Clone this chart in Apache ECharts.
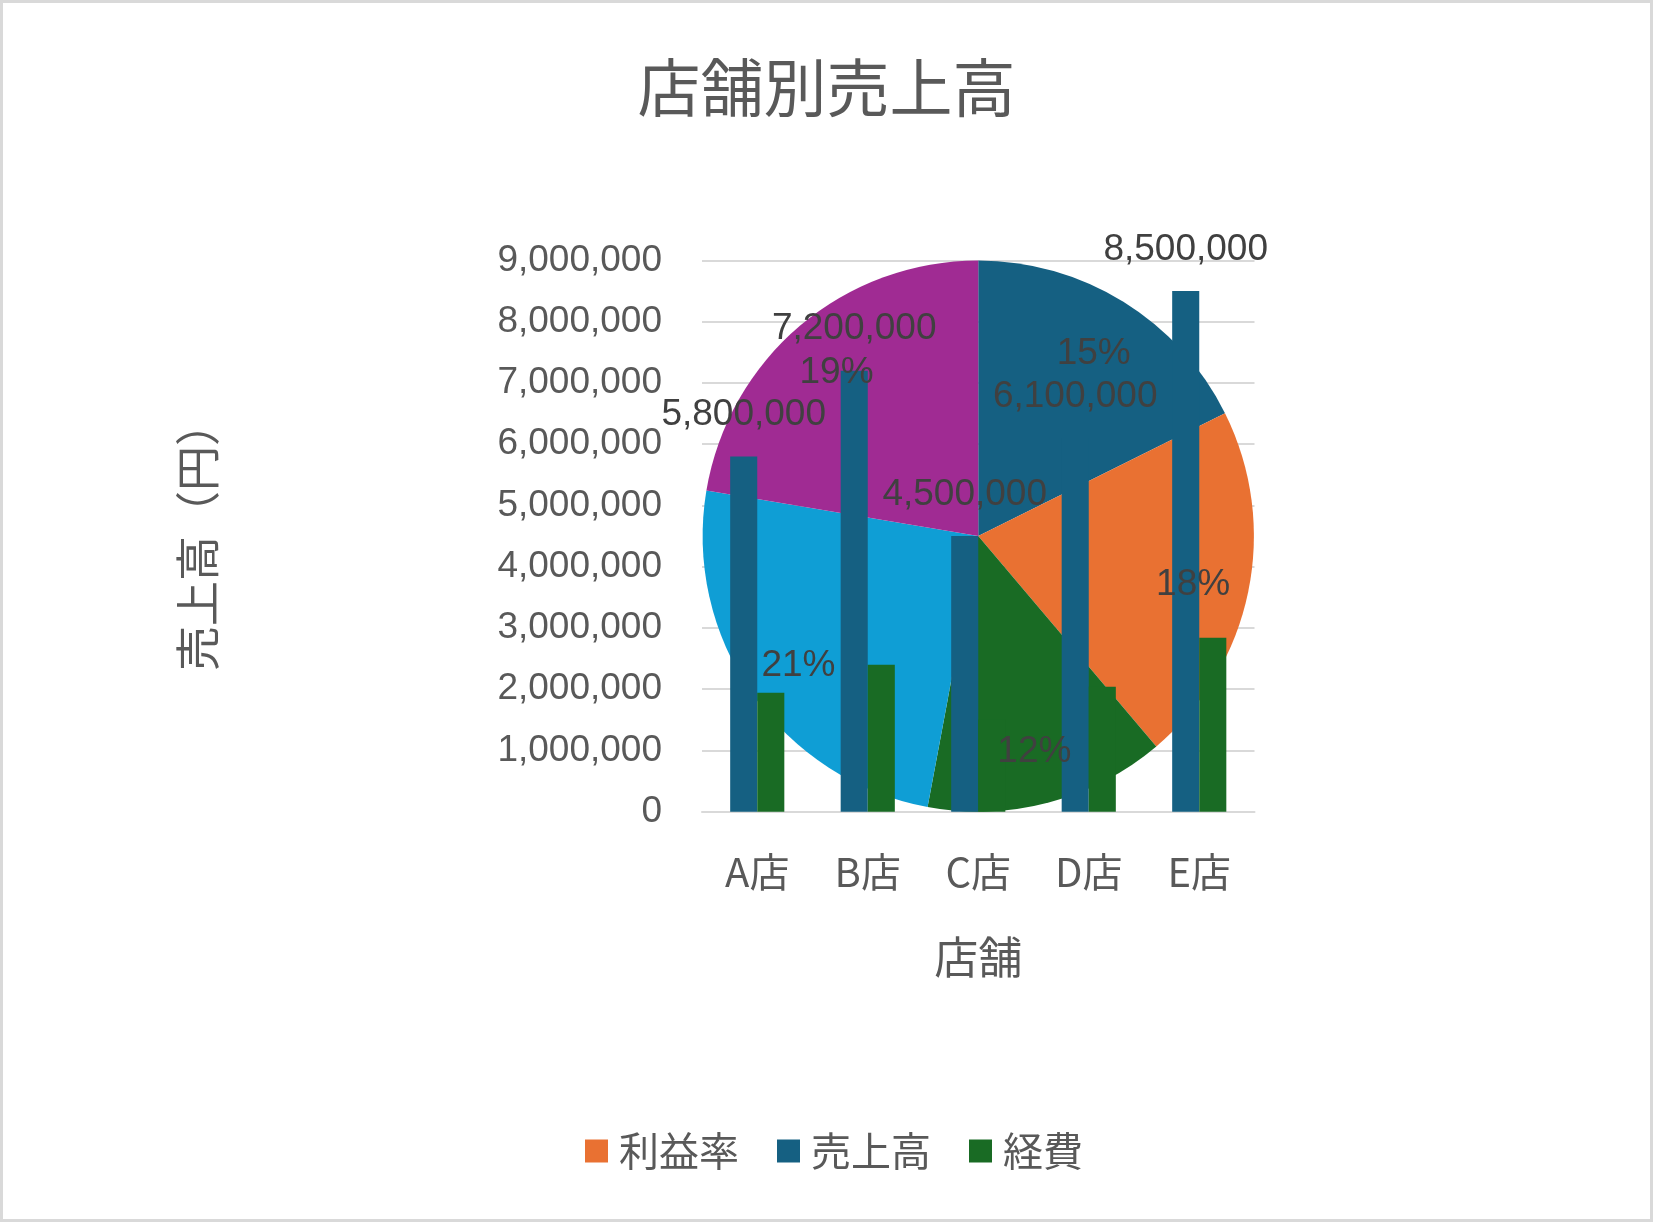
<!DOCTYPE html>
<html>
<head>
<meta charset="utf-8">
<script src="https://cdn.jsdelivr.net/npm/echarts@6/dist/echarts.min.js"></script>
<style>
  body { margin: 0; background: #fff; }
  #chart { width: 1653px; height: 1222px; }
</style>
</head>
<body>
<div id="chart"></div>
<script>
// データ
const stores = ['A店', 'B店', 'C店', 'D店', 'E店']
const sales = [5800000, 7200000, 4500000, 6100000, 8500000]
const expenses = [1940000, 2400000, 1500000, 2040000, 2840000]
const profitRate = [15, 18, 12, 21, 19]
const pieColors = ['#156082', '#E97132', '#196B24', '#0F9ED5', '#A02B93']

const jpFont = '"Noto Sans CJK JP", sans-serif'
const numFont = '"Liberation Sans", Arial, sans-serif'
const textColor = '#595959'
const labelColor = '#404040'

const fmt = (v) => Number(v).toLocaleString('en-US')

const chartDom = document.getElementById('chart')
const myChart = echarts.init(chartDom)

// 円グラフはプロットエリアの中心に重ねる
const plot = { left: 702, right: 398.5, top: 260.4, bottom: 410.3 }
const pieCenter = [702 + (1653 - 398.5 - 702) / 2, 260.4 + (1222 - 410.3 - 260.4) / 2]
const pieR = (1222 - 410.3 - 260.4) / 2

const pieData = stores.map((s, i) => ({
    name: s,
    value: profitRate[i],
    itemStyle: { color: pieColors[i] }
}))

const option = {
    backgroundColor: '#fff',
    animation: false,
    title: {
        text: '店舗別売上高',
        left: 'center',
        top: 51,
        textStyle: { fontFamily: jpFont, fontSize: 63, fontWeight: 'normal', color: textColor }
    },
    legend: {
        left: 580,
        top: 1126,
        itemWidth: 23,
        itemHeight: 23,
        itemGap: 38,
        icon: 'rect',
        textStyle: { fontFamily: jpFont, fontSize: 40, color: textColor, padding: [0, 0, 0, 6] },
        data: [
            { name: '利益率', itemStyle: { color: '#E97132' } },
            { name: '売上高', itemStyle: { color: '#156082' } },
            { name: '経費', itemStyle: { color: '#196B24' } }
        ]
    },
    graphic: [{
        type: 'rect',
        shape: { x: 1.5, y: 1.5, width: 1650, height: 1219 },
        style: { fill: 'none', stroke: '#d9d9d9', lineWidth: 3 },
        silent: true
    }],
    grid: plot,
    xAxis: {
        type: 'category',
        data: stores,
        name: '店舗',
        nameLocation: 'middle',
        nameGap: 124,
        nameTextStyle: { fontFamily: jpFont, fontSize: 44, color: textColor },
        axisLine: { lineStyle: { color: '#d9d9d9', width: 2 } },
        axisTick: { show: false },
        axisLabel: { fontFamily: jpFont, fontSize: 40, color: textColor, margin: 40 }
    },
    yAxis: {
        type: 'value',
        min: 0,
        max: 9000000,
        interval: 1000000,
        name: '売上高（円）',
        nameLocation: 'middle',
        nameRotate: 90,
        nameGap: 482,
        nameTextStyle: { fontFamily: jpFont, fontSize: 45, color: textColor },
        axisLine: { show: false },
        axisTick: { show: false },
        splitLine: { lineStyle: { color: '#d9d9d9', width: 2 } },
        axisLabel: { fontFamily: numFont, fontSize: 37, color: textColor, margin: 40, formatter: fmt }
    },
    series: [
        {
            name: '利益率',
            type: 'pie',
            z: 1,
            center: pieCenter,
            radius: pieR,
            startAngle: 90,
            clockwise: true,
            label: { show: false },
            labelLine: { show: false },
            data: pieData
        },
        {
            name: '売上高',
            type: 'bar',
            z: 2,
            data: sales,
            barGap: '0%',
            barCategoryGap: '51%',
            itemStyle: { color: '#156082' },
            label: {
                show: true,
                position: 'top',
                distance: 23,
                fontFamily: numFont,
                fontSize: 37,
                color: labelColor,
                formatter: (p) => fmt(p.value)
            }
        },
        {
            name: '経費',
            type: 'bar',
            z: 2,
            data: expenses,
            itemStyle: { color: '#196B24' }
        },
        {
            // ラベル用の透明リング（中間半径にラベルが出る）
            name: 'pieLabel',
            type: 'pie',
            z: 3,
            silent: true,
            center: pieCenter,
            radius: [pieR * 0.57, pieR],
            startAngle: 90,
            clockwise: true,
            itemStyle: { color: 'rgba(0,0,0,0)' },
            label: {
                show: true,
                position: 'inside',
                offset: [0, 4],
                fontFamily: numFont,
                fontSize: 37,
                color: labelColor,
                formatter: '{c}%'
            },
            labelLine: { show: false },
            data: profitRate.map((v, i) => ({ name: stores[i], value: v }))
        }
    ]
}
myChart.setOption(option)
</script>
</body>
</html>
